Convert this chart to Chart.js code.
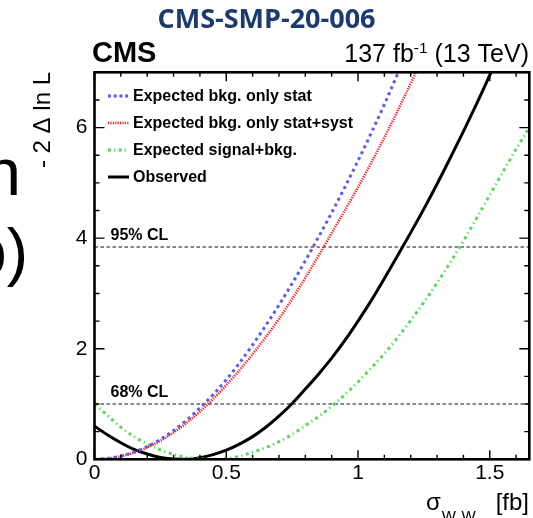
<!DOCTYPE html>
<html><head><meta charset="utf-8">
<script src="https://cdn.jsdelivr.net/npm/chart.js@4.4.0/dist/chart.umd.min.js"></script>
<style>html,body{margin:0;padding:0;background:#fff;overflow:hidden}canvas{display:block}</style>
</head><body>
<canvas id="c" width="533" height="518"></canvas>
<script>
// ---- data ----
const xValues = [0,0.05,0.1,0.15,0.2,0.25,0.3,0.35,0.4,0.45,0.5,0.55,0.6,0.65,0.7,0.75,0.8,0.85,0.9,0.95,1.0,1.05,1.1,1.15,1.2,1.25,1.3,1.35,1.4,1.45,1.5,1.55,1.6,1.65];
const expStat     = [0,0.015,0.06,0.13,0.23,0.36,0.52,0.71,0.93,1.17,1.44,1.74,2.07,2.42,2.79,3.18,3.59,4.02,4.46,4.92,5.40,5.90,6.42,6.97,7.55];
const expStatSyst = [0,0.013,0.055,0.12,0.215,0.335,0.485,0.66,0.86,1.09,1.34,1.61,1.90,2.21,2.54,2.90,3.28,3.68,4.09,4.50,4.92,5.36,5.82,6.30,6.80,7.32];
const expSigBkg   = [1.00,0.79,0.58,0.41,0.28,0.17,0.09,0.035,0.007,0.0,0.01,0.055,0.13,0.21,0.32,0.45,0.61,0.77,0.96,1.17,1.40,1.65,1.91,2.20,2.51,2.84,3.19,3.56,3.95,4.36,4.78,5.20,5.61,6.0];
const observed    = [0.60,0.44,0.30,0.18,0.095,0.035,0.005,0.002,0.03,0.085,0.165,0.275,0.41,0.58,0.78,1.01,1.27,1.54,1.83,2.15,2.50,2.87,3.27,3.68,4.10,4.53,4.98,5.45,5.93,6.43,6.95,7.50];
const seriesLabels = ['Expected bkg. only stat','Expected bkg. only stat+syst','Expected signal+bkg.','Observed'];
const clLevels = [1.0, 3.84];
const clLabels = ['68% CL','95% CL'];
const xTicks = [0,0.5,1,1.5];
const xTickLabels = ['0','0.5','1','1.5'];
const yTicks = [0,2,4,6];
const yTickLabels = ['0','2','4','6'];
const xRange = [0,1.65];
const yRange = [0,7];

const FONT = '"Liberation Sans", Arial, sans-serif';
Chart.defaults.font.family = FONT;

function pts(ys){ return ys.map((y,i)=>({x:xValues[i], y:y})); }

const styles = [
  {color:'#5a5aec', width:3, dash:[3,3.5], legendDash:[3,2.7]},
  {color:'#ff1a1a', width:2.5, dash:[1.2,1.2], legendDash:[1.2,1.2]},
  {color:'#55d855', width:3, dash:[3,3.5,1.2,3.5], legendDash:[3,3,1.2,3.5]},
  {color:'#000000', width:3, dash:[], legendDash:[]}
];
const seriesData = [expStat, expStatSyst, expSigBkg, observed];

const datasets = seriesData.map((d,i)=>({
  label: seriesLabels[i], data: pts(d),
  borderColor: styles[i].color, borderWidth: styles[i].width, borderDash: styles[i].dash,
  pointRadius:0, cubicInterpolationMode:'monotone', fill:false, inLegend:true, legendDash: styles[i].legendDash
}));
clLevels.forEach((v,i)=>datasets.push({
  label: clLabels[i], data:[{x:xRange[0],y:v},{x:xRange[1],y:v}],
  borderColor:'#111', borderWidth:1, borderDash:[3.5,2.5], pointRadius:0, fill:false, inLegend:false
}));

const decor = {
  id:'decor',
  afterDatasetsDraw(chart){
    const ctx = chart.ctx, a = chart.chartArea, x = chart.scales.x, y = chart.scales.y;
    ctx.save();
    // CL labels
    ctx.fillStyle = '#000'; ctx.textAlign='left'; ctx.textBaseline='alphabetic';
    ctx.font = 'bold 16px ' + FONT;
    clLevels.forEach((v,i)=>ctx.fillText(clLabels[i], a.left + 16, y.getPixelForValue(v) - 7));
    // frame
    ctx.strokeStyle='#000'; ctx.lineWidth = 2.6; ctx.setLineDash([]);
    ctx.strokeRect(a.left, a.top, a.right - a.left, a.bottom - a.top);
    // ticks (inward, all four sides)
    ctx.lineWidth = 1.4; ctx.beginPath();
    for (let i=0;i<=16;i++){
      const px = x.getPixelForValue(i/10), L = (i%5===0)?9:4.5;
      ctx.moveTo(px,a.bottom); ctx.lineTo(px,a.bottom-L);
      ctx.moveTo(px,a.top); ctx.lineTo(px,a.top+L);
    }
    for (let i=0;i<=14;i++){
      const py = y.getPixelForValue(i/2), L = (i%4===0)?10:5;
      ctx.moveTo(a.left,py); ctx.lineTo(a.left+L,py);
      ctx.moveTo(a.right,py); ctx.lineTo(a.right-L,py);
    }
    ctx.stroke();
    // legend
    ctx.font = 'bold 16px ' + FONT; ctx.textBaseline='middle';
    let row = 0;
    chart.data.datasets.forEach(ds=>{
      if (!ds.inLegend) return;
      const ly = 96 + row*27;
      ctx.strokeStyle = ds.borderColor; ctx.lineWidth = ds.borderWidth; ctx.setLineDash(ds.legendDash);
      ctx.beginPath(); ctx.moveTo(108, ly); ctx.lineTo(129, ly); ctx.stroke();
      ctx.setLineDash([]);
      ctx.fillStyle='#000'; ctx.fillText(ds.label, 133, ly+0.5);
      row++;
    });
    ctx.textBaseline='alphabetic';
    // headline
    ctx.fillStyle = '#1b3a6d'; ctx.textAlign='center';
    ctx.font = 'bold 27px "Open Sans", ' + FONT;
    ctx.fillText('CMS-SMP-20-006', 266.5, 28);
    // CMS
    ctx.fillStyle = '#000'; ctx.textAlign='left';
    ctx.font = 'bold 29px ' + FONT;
    ctx.fillText('CMS', 92, 62);
    // lumi
    const parts = [['137 fb',25,0],['-1',15.5,-9],[' (13 TeV)',25,0]];
    let tw = 0;
    parts.forEach(p=>{ ctx.font = p[1]+'px '+FONT; tw += ctx.measureText(p[0]).width; });
    let cx = 529 - tw;
    parts.forEach(p=>{ ctx.font = p[1]+'px '+FONT; ctx.fillText(p[0], cx, 62 + p[2]); cx += ctx.measureText(p[0]).width; });
    // y title (rotated)
    ctx.save(); ctx.translate(50, 72); ctx.rotate(-Math.PI/2);
    ctx.textAlign='right'; ctx.font = '24px ' + FONT;
    ctx.fillText('- 2 \u0394 ln L', 0, 0);
    ctx.restore();
    // x title
    ctx.textAlign='left';
    let tx = 426;
    ctx.font = '24px ' + FONT; ctx.fillText('\u03c3', tx, 510); tx += ctx.measureText('\u03c3').width + 1;
    ['W','W'].forEach(()=>{
      ctx.font = '15px ' + FONT; ctx.fillText('W', tx, 521); tx += ctx.measureText('W').width;
      ctx.font = '9px ' + FONT; ctx.fillText('L', tx, 526); tx += ctx.measureText('L').width + 0.5;
    });
    ctx.textAlign='right'; ctx.font = '24px ' + FONT;
    ctx.fillText('[fb]', 529, 510);
    // fragments of slide text on the left
    ctx.font = '67px ' + FONT;
    ctx.fillText('n', 21, 195);
    ctx.font = '64px ' + FONT;
    ctx.fillText('b)', 28, 274);
    ctx.restore();
  }
};

new Chart(document.getElementById('c'), {
  type:'line',
  data:{datasets: datasets},
  plugins:[decor],
  options:{
    responsive:false, animation:false, events:[],
    layout:{padding:{left:0, right:3.7, top:72.3, bottom:18.7}},
    plugins:{legend:{display:false}, tooltip:{enabled:false}, title:{display:false}},
    scales:{
      x:{type:'linear', min:xRange[0], max:xRange[1],
         afterBuildTicks:s=>{ s.ticks = xTicks.map(v=>({value:v})); },
         afterFit:s=>{ s.height = 40; },
         ticks:{color:'#000', font:{size:21}, padding:1, maxRotation:0, autoSkip:false,
                callback:(v)=>{ const i = xTicks.indexOf(v); return i>=0 ? xTickLabels[i] : ''; }},
         grid:{display:false, drawTicks:false}, border:{display:false}},
      y:{type:'linear', min:yRange[0], max:yRange[1],
         afterBuildTicks:s=>{ s.ticks = yTicks.map(v=>({value:v})); },
         afterFit:s=>{ s.width = 94.5; },
         ticks:{color:'#000', font:{size:21}, padding:7, autoSkip:false,
                callback:(v)=>{ const i = yTicks.indexOf(v); return i>=0 ? yTickLabels[i] : ''; }},
         grid:{display:false, drawTicks:false}, border:{display:false}}
    }
  }
});
</script>
</body></html>
